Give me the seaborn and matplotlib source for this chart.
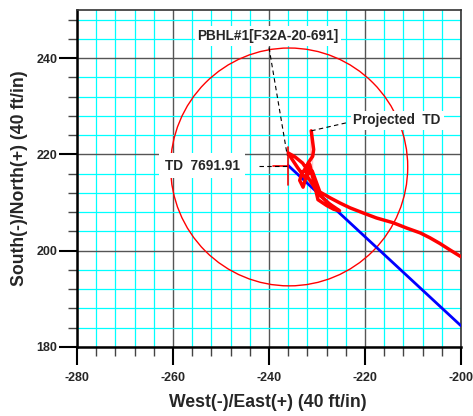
import matplotlib
matplotlib.use("Agg")
import matplotlib.pyplot as plt
from matplotlib.patches import Circle
from matplotlib.ticker import MultipleLocator
import seaborn as sns
import pandas as pd

# well path (survey)
well_x = [-200.0, -202.2, -204.4, -206.5, -208.5, -211.3, -214.1, -217.6, -220.4, -223.1,
          -225.2, -227.3, -229.4, -231.0, -232.6, -234.0, -235.2, -236.0,
          -234.6, -233.0, -232.3, -233.2, -233.6, -232.9, -231.5, -229.8, -228.0, -226.5, -225.3,
          -227.5, -229.5, -231.0, -232.0, -232.4, -231.8, -230.9, -230.7, -231.0, -231.5, -231.2]
well_y = [198.75, 200.1, 201.5, 202.7, 203.7, 204.7, 205.8, 206.8, 207.85, 208.9,
          209.9, 211.0, 212.2, 213.6, 215.3, 217.2, 219.0, 220.3,
          219.5, 218.2, 217.2, 216.0, 214.6, 213.2, 212.0, 210.6, 209.4, 208.6, 208.3,
          209.8, 211.6, 213.6, 215.4, 217.0, 218.3, 219.6, 221.0, 222.5, 223.8, 224.9]

# planned line
plan_x = [-236.0, -200.0]
plan_y = [217.7, 184.4]

# target circle
target_x = -235.8
target_y = 217.4
target_r = 24.7

td_x = -236.0
td_y = 217.7
proj_x = -231.2
proj_y = 224.9

sns.set_style("white")
plt.rcParams['font.family'] = ['Liberation Sans', 'DejaVu Sans']
plt.rcParams['axes.unicode_minus'] = False

fig = plt.figure(figsize=(4.73, 4.16), dpi=100)
ax = fig.add_axes([77 / 473, 1 - 347 / 416, 384 / 473, 337 / 416])

ax.set_xlim(-280, -200)
ax.set_ylim(180, 250)
ax.xaxis.set_major_locator(MultipleLocator(20))
ax.yaxis.set_major_locator(MultipleLocator(20))
ax.xaxis.set_minor_locator(MultipleLocator(4))
ax.yaxis.set_minor_locator(MultipleLocator(4))
ax.grid(which='minor', color='#00ffff', linewidth=0.9, zorder=0)
ax.grid(which='major', color='#555555', linewidth=1.0, zorder=0.5)
ax.set_axisbelow(True)

ax.tick_params(which='major', direction='out', length=13, width=1.5, color='black',
               labelsize=9, left=True, bottom=True)
ax.tick_params(axis='x', which='major', pad=5)
ax.tick_params(axis='y', which='major', pad=1)
ax.tick_params(which='minor', direction='out', length=6.5, width=1, color='#444444',
               left=True, bottom=True)
for lab in ax.get_xticklabels() + ax.get_yticklabels():
    lab.set_fontweight('bold')
for s in ['left', 'bottom']:
    ax.spines[s].set_linewidth(1.8)
    ax.spines[s].set_color('black')
for s in ['top', 'right']:
    ax.spines[s].set_linewidth(1.2)
    ax.spines[s].set_color('#333333')

ax.add_patch(Circle((target_x, target_y), target_r, fill=False, color='red', linewidth=1, zorder=3))

sns.lineplot(data=pd.DataFrame({'x': plan_x, 'y': plan_y}), x='x', y='y', ax=ax,
             color='blue', linewidth=2, sort=False, zorder=4)
sns.lineplot(data=pd.DataFrame({'x': well_x, 'y': well_y}), x='x', y='y', ax=ax,
             color='red', linewidth=2.5, sort=False, zorder=5,
             solid_joinstyle='round', solid_capstyle='round')

# TD crosshair
ax.plot([td_x, td_x], [213.75, 221.5], color='red', linewidth=1.2, zorder=5)
ax.plot([-239.2, td_x], [td_y, td_y], color='red', linewidth=1.2, zorder=5)

# leaders
dash = (0, (4, 3))
ax.plot([-242.0, td_x], [td_y, td_y], color='black', linestyle=dash, linewidth=0.8, zorder=6)
ax.plot([-240.0, -236.2], [242.2, 219.8], color='black', linestyle=dash, linewidth=0.8, zorder=6)
ax.plot([proj_x, -223.3], [proj_y, 226.7], color='black', linestyle=dash, linewidth=0.8, zorder=6)

box = dict(facecolor='white', edgecolor='none', pad=2)
ax.text(-240.2, 244.6, 'PBHL#1[F32A-20-691]', ha='center', va='center', fontsize=9.8,
        fontweight='bold', bbox=box, zorder=7)
ax.text(-253.9, 217.7, 'TD  7691.91', ha='center', va='center', fontsize=9.8,
        fontweight='bold', bbox=dict(facecolor='white', edgecolor='none', pad=4), zorder=7)
ax.text(-213.3, 227.1, 'Projected  TD', ha='center', va='center', fontsize=9.8,
        fontweight='bold', bbox=box, zorder=7)

ax.set_xlabel('West(-)/East(+) (40 ft/in)', fontsize=12.7, fontweight='bold')
ax.set_ylabel('South(-)/North(+) (40 ft/in)', fontsize=12.7, fontweight='bold')
ax.xaxis.set_label_coords(0.497, -0.139)
ax.yaxis.set_label_coords(-0.128, 0.5)

fig.savefig('out.png', dpi=100)
